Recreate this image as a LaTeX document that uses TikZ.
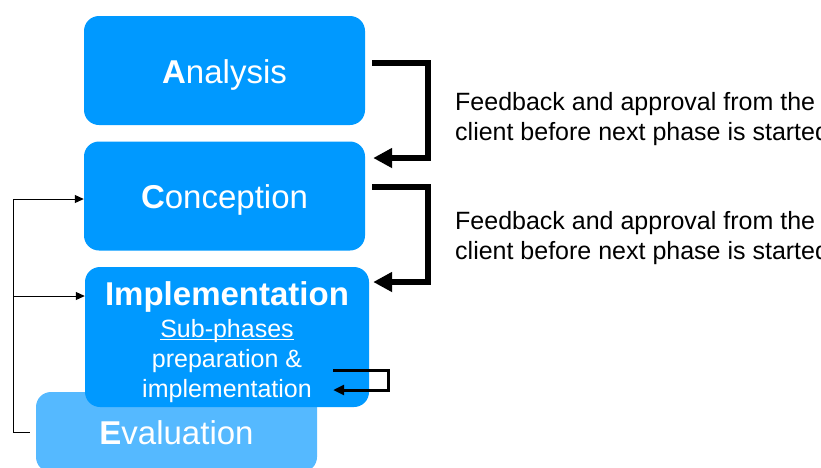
\documentclass[tikz,border=0pt]{standalone}
\usepackage{fontspec}
\setmainfont{Liberation Sans}
\usepackage{tikz}
\usetikzlibrary{arrows.meta}
\usepackage{xcolor}

\definecolor{phaseblue}{HTML}{0099FF}
\definecolor{evalblue}{HTML}{55B9FF}
\newcommand{\ultext}[1]{\leavevmode\setbox0=\hbox{#1}%
	\rlap{\vrule width \wd0 height -1.6pt depth 3pt}\box0}

\begin{document}
\begin{tikzpicture}[x=1pt,y=-1pt,
	phasebox/.style={fill=phaseblue, rounded corners=15pt,
		minimum width=281pt, minimum height=109pt, inner sep=0pt,
		text=white, font=\fontsize{33}{38}\selectfont,
		text height=25pt, text depth=0pt},
	feedback/.style={line width=6pt, -{Triangle[length=19pt,width=19pt]}},
	subloop/.style={line width=3pt, -{Triangle[length=11pt,width=10pt]}},
	backline/.style={line width=1pt, -{Triangle[length=9pt,width=8pt]}},
	note/.style={anchor=base west, align=left, inner sep=0pt,
		font=\fontsize{25}{30}\selectfont}]
	%\draw[help lines] (0,0) grid (821,467);
	\useasboundingbox (0,0) rectangle (821,467);
	\clip (0,0) rectangle (821,467);
	
		% phases
		\node[phasebox] (ana) at (224.5,70.5) {{\bfseries A}nalysis};
		\node[phasebox] (con) at (224.5,196) {{\bfseries C}onception};
		\node[phasebox, fill=evalblue, minimum height=80pt] (ev) at (176.5,432) {{\bfseries E}valuation};
		\node[phasebox, minimum width=284pt, minimum height=140pt] (impl) at (227,337) {};
		\node[align=center, text=white, inner sep=0pt,
			font=\fontsize{25}{30}\selectfont] (impltext) at (227,342)
			{{\fontsize{33}{36}\selectfont\bfseries Implementation}\\[2pt]
			\ultext{Sub-phases}\\preparation \&\\implementation};
		
		% client feedback
		\draw[feedback] ([shift={(7,-7.5)}]ana.east) -| ++(56,95)
			-- ([shift={(8,-38)}]con.east);
		\draw[feedback] ([shift={(7,-9)}]con.east) -| ++(56,95)
			-- ([shift={(4,-55)}]impl.east);
		\node[note] (note1) at (455,140) {Feedback and approval from the\\client before next phase is started};
		\node[note] (note2) at (455,259) {Feedback and approval from the\\client before next phase is started};
		
		% sub-phase loop
		\draw[subloop] ([shift={(-36,33)}]impl.east) -| ++(55,20)
			-- ([shift={(-36,53)}]impl.east);
		
		% back from evaluation
		\coordinate (back) at (13,432);
		\coordinate (split) at (13,296);
		\draw[backline] ([xshift=-6pt]ev.west) -- (back) |- ([yshift=-3pt]con.west);
		\draw[backline] (split) -- ([yshift=41pt]impl.west);
	
\end{tikzpicture}
\end{document}
